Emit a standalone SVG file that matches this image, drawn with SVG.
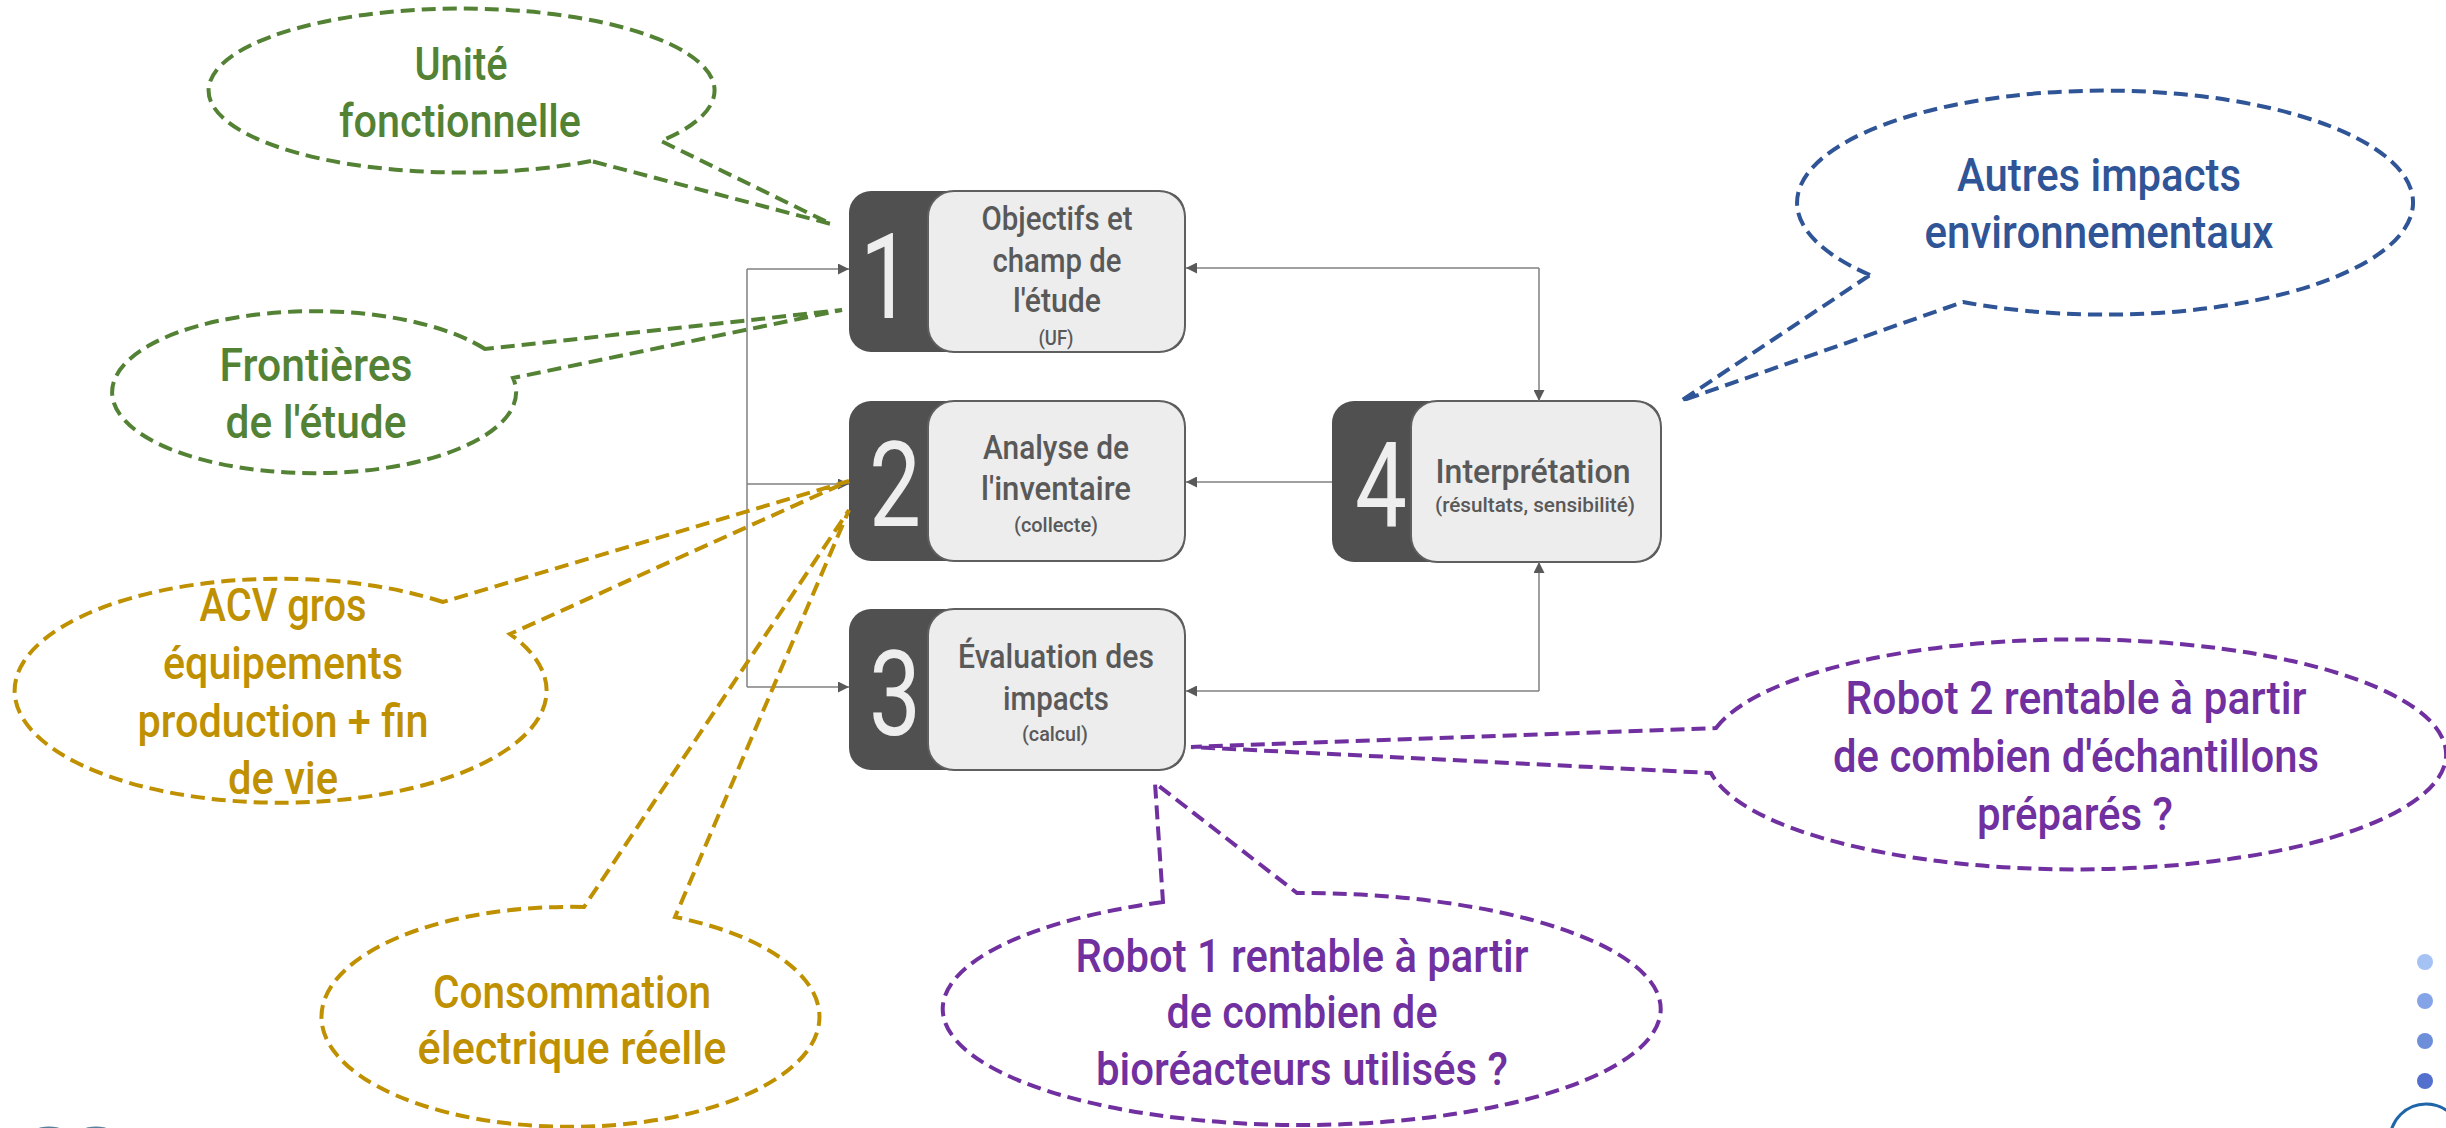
<svg xmlns="http://www.w3.org/2000/svg" width="2446" height="1128" viewBox="0 0 2446 1128">
<style>
.dark{fill:#505050;}
.light{fill:#EDEDED;stroke:#5F5F5F;stroke-width:2;}
.num{font-family:Roboto,"Liberation Sans",sans-serif;font-size:118px;fill:#EEEEEE;text-anchor:middle;}
.bt{font-family:Roboto,"Liberation Sans",sans-serif;font-size:33px;font-weight:500;fill:#595959;text-anchor:middle;}
.bs{font-family:Roboto,"Liberation Sans",sans-serif;font-size:21px;font-weight:500;fill:#595959;text-anchor:middle;}
.conn{fill:none;stroke:#808080;stroke-width:1.5;}
.call{fill:none;stroke-width:4;stroke-dasharray:14 7;stroke-linejoin:miter;}
.ct{font-family:Roboto,"Liberation Sans",sans-serif;font-size:47px;font-weight:500;text-anchor:middle;}
.green{stroke:#548235;} .tgreen{fill:#548235;}
.gold{stroke:#BF9000;} .tgold{fill:#BF9000;}
.blue{stroke:#2F5597;} .tblue{fill:#2F5597;}
.purple{stroke:#7030A0;} .tpurple{fill:#7030A0;}
</style>
<defs>
<marker id="arr" markerWidth="11" markerHeight="11" refX="11" refY="5.5" orient="auto" markerUnits="userSpaceOnUse">
<path d="M0,0 L11,5.5 L0,11 z" fill="#595959"/>
</marker>
</defs>

<g id="step1">
<rect class="dark" x="849" y="191" width="336" height="161" rx="22"/>
<rect class="light" x="928" y="191" width="257" height="161" rx="26"/>
<text class="num" x="886" y="318" textLength="52" lengthAdjust="spacingAndGlyphs">1</text>
<text class="bt" x="1057" y="230" textLength="151" lengthAdjust="spacingAndGlyphs">Objectifs et</text>
<text class="bt" x="1057" y="272" textLength="129" lengthAdjust="spacingAndGlyphs">champ de</text>
<text class="bt" x="1057" y="312" textLength="88" lengthAdjust="spacingAndGlyphs">l'étude</text>
<text class="bs" x="1056" y="345" textLength="35" lengthAdjust="spacingAndGlyphs">(UF)</text>
</g>

<g id="step2">
<rect class="dark" x="849" y="401" width="336" height="160" rx="22"/>
<rect class="light" x="928" y="401" width="257" height="160" rx="26"/>
<text class="num" x="895" y="526" textLength="52" lengthAdjust="spacingAndGlyphs">2</text>
<text class="bt" x="1056" y="459" textLength="146" lengthAdjust="spacingAndGlyphs">Analyse de</text>
<text class="bt" x="1056" y="500" textLength="150" lengthAdjust="spacingAndGlyphs">l'inventaire</text>
<text class="bs" x="1056" y="532" textLength="84" lengthAdjust="spacingAndGlyphs">(collecte)</text>
</g>

<g id="step3">
<rect class="dark" x="849" y="609" width="336" height="161" rx="22"/>
<rect class="light" x="928" y="609" width="257" height="161" rx="26"/>
<text class="num" x="895" y="735" textLength="52" lengthAdjust="spacingAndGlyphs">3</text>
<text class="bt" x="1056" y="668" textLength="196" lengthAdjust="spacingAndGlyphs">Évaluation des</text>
<text class="bt" x="1056" y="710" textLength="106" lengthAdjust="spacingAndGlyphs">impacts</text>
<text class="bs" x="1055" y="741" textLength="66" lengthAdjust="spacingAndGlyphs">(calcul)</text>
</g>

<g id="step4">
<rect class="dark" x="1332" y="401" width="329" height="161" rx="22"/>
<rect class="light" x="1411" y="401" width="250" height="161" rx="26"/>
<text class="num" x="1381" y="527" textLength="52" lengthAdjust="spacingAndGlyphs">4</text>
<text class="bt" x="1533" y="483" font-size="31" textLength="195" lengthAdjust="spacingAndGlyphs">Interprétation</text>
<text class="bs" x="1535" y="512" textLength="200" lengthAdjust="spacingAndGlyphs">(résultats, sensibilité)</text>
</g>

<g id="connectors">
<path class="conn" d="M747 269 V687"/>
<path class="conn" d="M747 269 H849" marker-end="url(#arr)"/>
<path class="conn" d="M747 484 H849" marker-end="url(#arr)"/>
<path class="conn" d="M747 687 H849" marker-end="url(#arr)"/>
<path class="conn" d="M1539 268 H1186" marker-end="url(#arr)"/>
<path class="conn" d="M1539 268 V401" marker-end="url(#arr)"/>
<path class="conn" d="M1332 482 H1186" marker-end="url(#arr)"/>
<path class="conn" d="M1539 691 V562" marker-end="url(#arr)"/>
<path class="conn" d="M1539 691 H1186" marker-end="url(#arr)"/>
</g>

<g id="callout-unite">
<path class="call green" d="M591 161 A253 82 0 1 1 661 141 L831 224 Z"/>
<text class="ct tgreen" x="461" y="80" textLength="93" lengthAdjust="spacingAndGlyphs">Unité</text>
<text class="ct tgreen" x="460" y="137" textLength="242" lengthAdjust="spacingAndGlyphs">fonctionnelle</text>
</g>

<g id="callout-frontieres">
<path class="call green" d="M485 349 A202 81 0 1 0 513 378 L842 310 Z"/>
<text class="ct tgreen" x="316" y="381" textLength="193" lengthAdjust="spacingAndGlyphs">Frontières</text>
<text class="ct tgreen" x="316" y="438" textLength="181" lengthAdjust="spacingAndGlyphs">de l'étude</text>
</g>

<g id="callout-acv">
<path class="call gold" d="M443 602 A266 112 0 1 0 510 634 L849 481 Z"/>
<text class="ct tgold" x="283" y="621" font-size="42" textLength="167" lengthAdjust="spacingAndGlyphs">ACV gros</text>
<text class="ct tgold" x="283" y="679" font-size="42" textLength="240" lengthAdjust="spacingAndGlyphs">équipements</text>
<text class="ct tgold" x="283" y="737" font-size="42" textLength="291" lengthAdjust="spacingAndGlyphs">production + fin</text>
<text class="ct tgold" x="283" y="794" font-size="42" textLength="110" lengthAdjust="spacingAndGlyphs">de vie</text>
</g>

<g id="callout-conso">
<path class="call gold" d="M584 907 A249 110 0 1 0 675 917 L849 510 Z"/>
<text class="ct tgold" x="572" y="1008" font-size="45" textLength="278" lengthAdjust="spacingAndGlyphs">Consommation</text>
<text class="ct tgold" x="572" y="1064" font-size="45" textLength="309" lengthAdjust="spacingAndGlyphs">électrique réelle</text>
</g>

<g id="callout-autres">
<path class="call blue" d="M1870 275 A308 112 0 1 1 1963 302 L1681 401 Z"/>
<text class="ct tblue" x="2099" y="191" textLength="284" lengthAdjust="spacingAndGlyphs">Autres impacts</text>
<text class="ct tblue" x="2099" y="248" textLength="349" lengthAdjust="spacingAndGlyphs">environnementaux</text>
</g>

<g id="callout-robot2">
<path class="call purple" d="M1716 728 A370 115 0 1 1 1711 773 L1191 747 Z"/>
<text class="ct tpurple" x="2076" y="714" textLength="461" lengthAdjust="spacingAndGlyphs">Robot 2 rentable à partir</text>
<text class="ct tpurple" x="2076" y="772" textLength="486" lengthAdjust="spacingAndGlyphs">de combien d'échantillons</text>
<text class="ct tpurple" x="2075" y="830" textLength="196" lengthAdjust="spacingAndGlyphs">préparés ?</text>
</g>

<g id="callout-robot1">
<path class="call purple" d="M1163 902 A359 116 0 1 0 1297 893 L1155 783 Z"/>
<text class="ct tpurple" x="1302" y="972" textLength="453" lengthAdjust="spacingAndGlyphs">Robot 1 rentable à partir</text>
<text class="ct tpurple" x="1302" y="1028" textLength="271" lengthAdjust="spacingAndGlyphs">de combien de</text>
<text class="ct tpurple" x="1302" y="1085" textLength="412" lengthAdjust="spacingAndGlyphs">bioréacteurs utilisés ?</text>
</g>

<g id="decor">
<circle cx="2425" cy="962" r="8" fill="#A4C2F4"/>
<circle cx="2425" cy="1001" r="8" fill="#85A4E8"/>
<circle cx="2425" cy="1041" r="8" fill="#6D8FD9"/>
<circle cx="2425" cy="1081" r="8" fill="#5470CF"/>
<circle cx="2426" cy="1140" r="36" fill="none" stroke="#1F66A8" stroke-width="3"/>
<ellipse cx="49" cy="1129" rx="11" ry="2.5" fill="#5A8199"/>
<ellipse cx="96" cy="1129" rx="11" ry="2.5" fill="#5A8199"/>
</g>
</svg>
